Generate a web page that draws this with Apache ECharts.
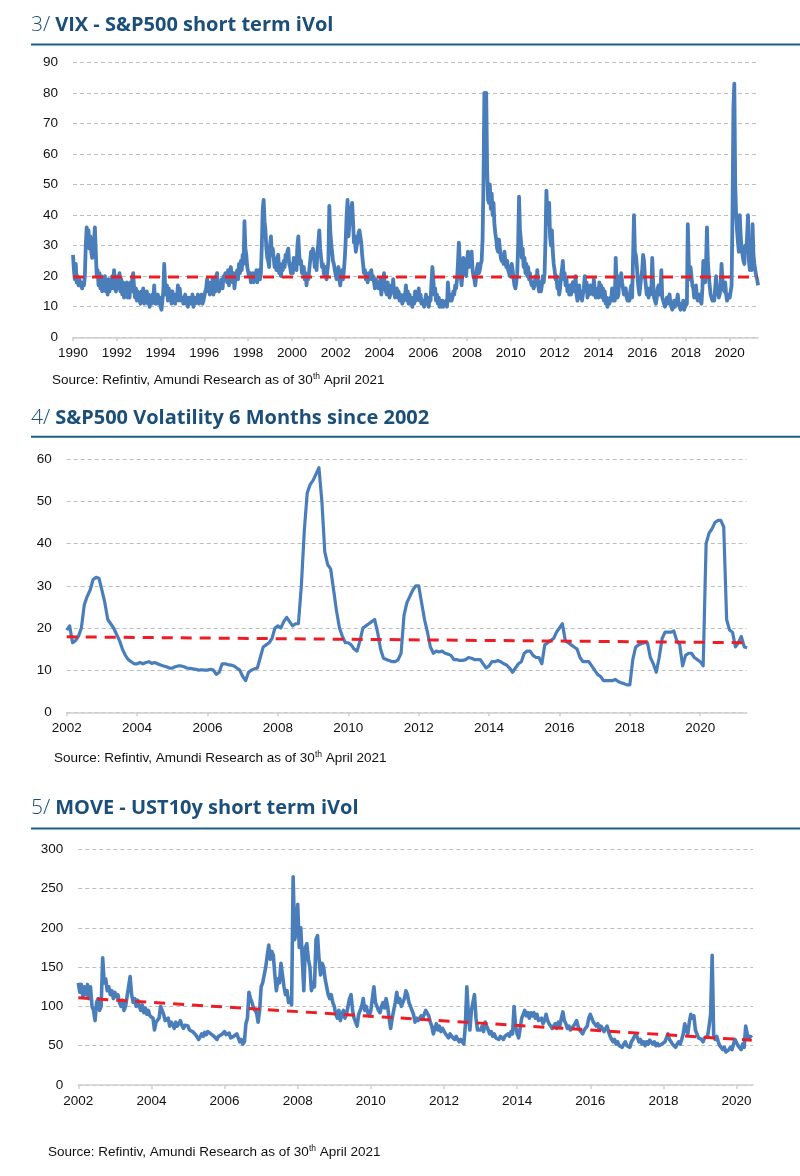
<!DOCTYPE html>
<html>
<head>
<meta charset="utf-8">
<script src="https://cdn.jsdelivr.net/npm/echarts@6/dist/echarts.min.js"></script>
<style>
html,body{margin:0;padding:0;background:#fff;}
#main{width:800px;height:1176px;}
</style>
</head>
<body>
<div id="main"></div>
<script>
// ---------- Chart 3/ VIX (semi-monthly, from Jan 1990) ----------
const vixStartYear = 1990;
const vixValues = [
  27,22,19,24,18,20,17,19,18,17,16,18,17,20,30,36,33,35,29,33,28,26,27,31, // 1990
  36,28,20,22,17,21,16,20,15,19,16,20,15,18,14,19,15,18,16,20,16,22,17,15, // 1991
  16,20,17,21,15,19,14,18,13,17,14,18,13,16,13,18,15,19,21,16,13,16,12,15, // 1992
  14,12,11,15,12,16,11,14,12,15,11,14,10,13,11,14,12,17,11,14,11,14,12,13, // 1993
  10,9,12,15,24,17,14,17,12,16,13,15,11,15,12,14,11,14,13,17,12,16,13,12,  // 1994
  13,11,12,14,11,13,10,13,11,13,11,14,10,13,11,13,12,14,11,13,12,14,11,12, // 1995
  12,15,16,19,15,18,14,17,15,19,14,18,15,20,21,16,15,17,16,19,16,20,19,21, // 1996
  20,18,22,17,21,23,20,18,21,16,19,20,22,19,24,21,25,22,27,24,38,29,27,23, // 1997
  23,20,21,18,19,21,18,20,19,22,18,21,22,19,21,30,42,45,38,35,29,26,25,23, // 1998
  30,33,27,29,26,23,25,22,26,27,21,24,20,23,22,25,23,27,25,28,29,24,23,21, // 1999
  24,21,26,23,25,22,30,33,27,24,25,21,21,23,19,21,17,20,19,22,25,28,26,29, // 2000
  27,23,26,22,28,31,35,29,26,23,24,21,20,23,19,22,25,43,35,31,28,25,24,22, // 2001
  22,19,21,23,19,17,20,22,19,22,26,32,40,45,33,37,38,42,44,38,31,33,28,30, // 2002
  31,34,35,33,31,27,24,21,22,19,20,18,21,19,20,22,19,20,18,16,19,17,18,16, // 2003
  16,19,14,17,18,21,16,15,14,18,15,13,14,17,15,19,15,13,14,16,13,15,12,14, // 2004
  13,11,12,14,13,17,12,15,11,14,11,13,10,13,11,15,12,14,13,16,12,14,11,12, // 2005
  12,10,12,14,11,13,10,13,12,18,23,19,14,16,12,14,11,13,10,12,10,12,10,11, // 2006
  11,12,10,18,14,12,14,12,13,15,14,17,16,19,24,31,25,20,17,21,26,22,24,20, // 2007
  25,28,23,24,26,28,22,20,19,17,20,23,24,21,22,24,25,32,50,80,60,80,55,45, // 2008
  44,50,42,47,40,44,37,34,32,29,28,32,29,26,25,27,24,28,25,23,25,22,22,20, // 2009
  20,24,22,19,17,16,18,21,30,46,35,32,26,29,23,26,21,24,20,23,19,21,18,17, // 2010
  18,16,17,20,18,22,17,15,18,15,17,20,18,21,32,48,40,37,44,33,30,35,28,24, // 2011
  22,19,20,16,17,14,16,20,22,25,19,21,17,19,15,17,14,17,14,17,18,15,16,20, // 2012
  14,12,13,17,13,15,12,14,16,20,16,18,13,15,14,17,15,17,14,19,15,13,13,16, // 2013
  13,18,14,17,13,16,12,15,11,13,10,12,11,13,12,16,12,14,12,26,16,13,14,20, // 2014
  17,21,18,16,14,15,16,13,12,14,12,15,17,13,13,40,28,27,24,19,16,14,17,20, // 2015
  22,27,25,20,17,14,15,13,16,14,15,26,18,13,12,11,13,16,17,14,15,22,13,12, // 2016
  12,10,11,13,11,13,14,11,11,9,10,12,10,11,12,14,11,10,9,11,10,12,9,10,   // 2017
  10,11,37,25,19,23,20,17,16,13,15,17,13,12,12,14,12,11,16,25,20,18,24,36, // 2018
  25,20,17,14,14,12,13,12,16,20,16,15,13,14,17,24,19,16,15,18,14,12,13,14, // 2019
  13,15,17,40,75,83,50,40,35,31,28,40,33,29,27,25,24,30,28,33,40,25,22,23, // 2020
  22,37,27,24,22,20,19,17                                                  // 2021 Jan-Apr
];
const vixAverage = 19.7;
const vixTicks = [1990,1992,1994,1996,1998,2000,2002,2004,2006,2008,2010,2012,2014,2016,2018,2020];

// ---------- Chart 4/ S&P500 6M volatility (monthly, from Jan 2002) ----------
const spxStartYear = 2002;
const spxValues = [
  19.5,20.5,16.5,17,18,20,25.5,27.5,29,31.5,32,31.8,       // 2002
  29,26,22,21,20,18.5,17,15,13.5,12.5,12,11.5,             // 2003
  11.5,11.8,11.5,11.8,12,11.6,11.8,11.5,11.2,11,10.8,10.5, // 2004
  10.5,10.8,11,11,10.8,10.5,10.4,10.3,10.2,10,10.1,10,     // 2005
  10,10.2,10,9,9.5,11.5,11.5,11.3,11.2,11,10.5,10,         // 2006
  8.5,7.5,9.5,10,10.3,10.5,13,15.5,16,16.5,17.5,20,        // 2007
  20.5,20,21.5,22.5,21.5,20.5,21,21,30,43,52,54,           // 2008
  55,56.5,58,50,38,35,34,29,24,20,18,16.5,                 // 2009
  16.5,16,15,14.5,17,20,20.5,21,21.5,22,19,15,             // 2010
  12.8,12.5,12.3,12,12,12.5,14,23,26,27.5,29,30,           // 2011
  30,26,22,19,15.5,14,14.5,14.3,14.5,14,13.8,13.5,         // 2012
  12.5,12.5,12.3,12.3,12.5,13,12.8,12.5,12.5,12.5,11.5,10.5, // 2013
  11,12,12,12.3,12,11.5,11.2,10.5,9.5,10.5,11.5,12,        // 2014
  14,14.5,14.5,13.5,13,13,11.5,16,16.5,17,17.5,19,         // 2015
  20,21,17,16.5,16,15.5,15,13,12,12,12,11,                 // 2016
  10,9,8.5,7.5,7.5,7.5,7.5,7.8,7.3,7,6.8,6.5,              // 2017
  6.5,12.5,15.5,16,16.3,16.5,16.5,13,11.5,9.5,13,17.5,     // 2018
  19,19,19,19.3,17,16,11,13.5,14,14,13,12.5,               // 2019
  12,11,40,42.5,43.5,45,45.5,45.5,44,22,19.5,19,           // 2020
  15.5,16.5,18,15.5,15.3                                   // 2021
];
const spxTrend = [17.9, 16.5];
const spxTicks = [2002,2004,2006,2008,2010,2012,2014,2016,2018,2020];

// ---------- Chart 5/ MOVE (semi-monthly, from Jan 2002) ----------
const moveStartYear = 2002;
const moveValues = [
  130,118,128,112,125,115,128,110,125,100,95,82,105,110,95,100,162,130,135,120,125,115,120,110, // 2002
  118,112,115,105,100,108,95,100,98,125,138,115,105,110,100,108,100,95,102,92,98,90,95,88,      // 2003
  90,85,70,80,78,85,100,95,90,82,80,85,75,80,77,72,80,75,78,82,76,72,76,74,                     // 2004
  75,70,72,68,70,64,62,58,60,65,62,67,64,68,66,65,67,62,60,58,62,60,64,62,                      // 2005
  68,64,62,66,60,58,62,60,65,60,55,58,52,55,78,85,118,110,105,98,100,92,80,95,                  // 2006
  125,130,140,150,165,178,160,170,165,140,120,135,130,155,140,125,115,120,105,110,102,265,185,195, // 2007
  230,175,200,160,120,175,180,160,150,120,130,125,185,190,160,140,155,150,135,125,115,110,115,105, // 2008
  100,90,85,95,82,90,95,85,90,100,110,115,95,85,80,75,90,95,100,110,95,100,92,88,               // 2009
  95,110,125,105,100,95,92,100,105,98,110,100,85,72,85,95,105,118,105,110,100,98,110,120,       // 2010
  115,105,100,95,90,80,85,82,80,88,85,90,95,97,88,80,75,65,72,78,70,75,68,72,                   // 2011
  70,65,66,60,65,62,60,58,62,58,55,58,55,52,75,125,90,70,95,105,115,85,70,68,                   // 2012
  70,75,68,80,75,70,65,68,62,65,60,62,58,62,60,58,62,60,65,62,68,65,100,75,                     // 2013
  65,60,60,85,90,95,88,92,85,92,88,92,85,90,82,80,85,78,82,90,82,78,75,72,                      // 2014
  75,78,72,80,75,85,93,82,78,72,75,70,72,75,78,82,75,70,68,65,70,68,75,85,                      // 2015
  90,85,80,82,75,78,70,75,72,68,70,75,68,62,58,55,58,52,55,50,52,48,52,55,                      // 2016
  50,52,48,55,58,62,65,60,55,58,52,55,50,55,52,57,55,52,55,50,53,50,48,52,                      // 2017
  50,55,60,65,58,55,52,50,48,52,55,52,58,65,78,70,65,80,90,85,88,70,65,60,                      // 2018
  62,58,55,60,58,62,75,90,165,62,58,62,55,50,52,45,48,42,40,45,48,45,52,58,                     // 2019
  60,50,48,45,52,48,75,65,58,62,60                                                             // 2020
];
const moveTrend = [111, 57];
const moveTicks = [2002,2004,2006,2008,2010,2012,2014,2016,2018,2020];

// ---------- build series data ----------
const toXY = (vals, start, perYear) => vals.map((v, i) => [start + i / perYear, v]);
const vixData = toXY(vixValues, vixStartYear, 24);
const spxData = toXY(spxValues, spxStartYear, 12);
const moveData = toXY(moveValues, moveStartYear, 24);
const lastX = d => d[d.length - 1][0];

const BLUE = '#4a7ebb';
const RED = '#ee1c25';
const TITLE = '#1b4f7a';
const axisFont = 'Liberation Sans, Arial, sans-serif';

function xAxis(grid, min, max, ticks) {
  return {
    gridIndex: grid, type: 'value', min: min, max: max, interval: 2,
    axisLine: { show: true, lineStyle: { color: '#d0d0d0', width: 1.5 } },
    axisTick: { show: true, length: 4, lineStyle: { color: '#d0d0d0', width: 1.5 }, customValues: ticks },
    axisLabel: { color: '#111', fontSize: 13.5, fontFamily: axisFont, margin: 9, customValues: ticks,
                 formatter: v => String(Math.round(v)) },
    splitLine: { show: false }
  };
}
function yAxis(grid, max, interval) {
  return {
    gridIndex: grid, type: 'value', min: 0, max: max, interval: interval,
    axisLine: { show: false }, axisTick: { show: false },
    axisLabel: { color: '#111', fontSize: 13.5, fontFamily: axisFont, margin: 15 },
    splitLine: { show: true, lineStyle: { color: '#bdbdbd', width: 1, type: [4, 3] } }
  };
}
function titleComp(num, text, top) {
  return {
    left: 31, top: top, padding: 0,
    text: '{n|' + num + '/} {b|' + text + '}',
    textStyle: {
      rich: {
        n: { fontFamily: 'Open Sans', fontWeight: 300, fontSize: 21, color: TITLE, lineHeight: 26 },
        b: { fontFamily: 'Open Sans', fontWeight: 'bold', fontSize: 20, color: TITLE, lineHeight: 26 }
      }
    }
  };
}
function sourceComp(left, top) {
  return {
    left: left, top: top, padding: 0,
    text: '{s|Source: Refintiv, Amundi Research as of 30}{t|th}{s| April 2021}',
    textStyle: {
      fontWeight: 'normal',
      rich: {
        s: { fontFamily: axisFont, fontWeight: 'normal', fontSize: 13.5, color: '#111', lineHeight: 16 },
        t: { fontFamily: axisFont, fontWeight: 'normal', fontSize: 8.5, color: '#111', lineHeight: 16, verticalAlign: 'top' }
      }
    }
  };
}
function rule(y) {
  return { type: 'rect', shape: { x: 31, y: y - 1, width: 769, height: 2 }, style: { fill: '#1f5c88' }, silent: true };
}

const chart = echarts.init(document.getElementById('main'), null, { renderer: 'canvas' });
chart.setOption({
  animation: false,
  backgroundColor: '#fff',
  title: [
    titleComp(3, 'VIX - S&P500 short term iVol', 12.5),
    titleComp(4, 'S&P500 Volatility 6 Months since 2002', 405),
    titleComp(5, 'MOVE - UST10y short term iVol', 795),
    sourceComp(52, 372),
    sourceComp(54, 750),
    sourceComp(48, 1144)
  ],
  graphic: [rule(44.5), rule(436.8), rule(828.5)],
  grid: [
    { left: 73, right: 42, top: 62.3, height: 275 },
    { left: 66.7, right: 53.3, top: 459.3, height: 253 },
    { left: 78.3, right: 47, top: 849.3, height: 235.7 }
  ],
  xAxis: [
    xAxis(0, 1990, 2021.29, vixTicks),
    xAxis(1, 2002, 2021.32, spxTicks),
    xAxis(2, 2002, 2020.45, moveTicks)
  ],
  yAxis: [yAxis(0, 90, 10), yAxis(1, 60, 10), yAxis(2, 300, 50)],
  series: [
    { type: 'line', xAxisIndex: 0, yAxisIndex: 0, data: vixData, showSymbol: false, symbol: 'none',
      lineStyle: { color: BLUE, width: 3.8, join: 'round' } },
    { type: 'line', xAxisIndex: 0, yAxisIndex: 0, symbol: 'none', z: 5,
      data: [[vixStartYear, vixAverage], [lastX(vixData), vixAverage]],
      lineStyle: { color: RED, width: 3, type: [11, 8] } },
    { type: 'line', xAxisIndex: 1, yAxisIndex: 1, data: spxData, showSymbol: false, symbol: 'none',
      lineStyle: { color: BLUE, width: 3.2, join: 'round' } },
    { type: 'line', xAxisIndex: 1, yAxisIndex: 1, symbol: 'none', z: 5,
      data: [[spxStartYear, spxTrend[0]], [lastX(spxData), spxTrend[1]]],
      lineStyle: { color: RED, width: 3, type: [11, 8] } },
    { type: 'line', xAxisIndex: 2, yAxisIndex: 2, data: moveData, showSymbol: false, symbol: 'none',
      lineStyle: { color: BLUE, width: 3.6, join: 'round' } },
    { type: 'line', xAxisIndex: 2, yAxisIndex: 2, symbol: 'none', z: 5,
      data: [[moveStartYear, moveTrend[0]], [lastX(moveData), moveTrend[1]]],
      lineStyle: { color: RED, width: 3, type: [11, 8] } }
  ]
});
</script>
</body>
</html>
